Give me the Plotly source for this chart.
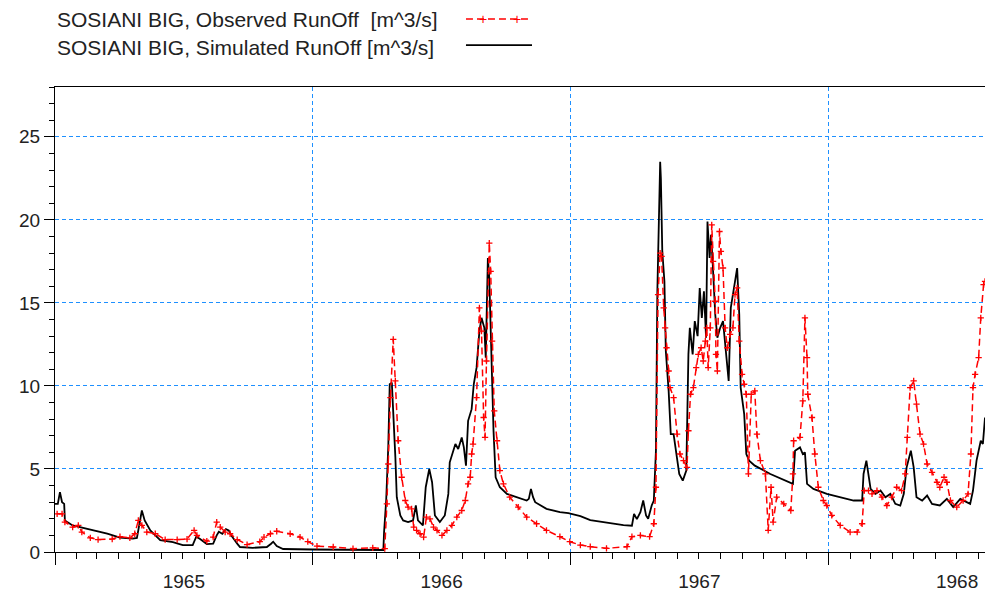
import plotly.graph_objects as go
import pandas as pd

# ---------------- data ----------------
start_date = "1965-01-01"
end_date = "1968-08-10"

obs_name = "SOSIANI BIG, Observed RunOff \u00a0[m^3/s]"
sim_name = "SOSIANI BIG, Simulated RunOff [m^3/s]"

year_ticks = ["1965", "1966", "1967", "1968"]

# days since 1965-01-01
sim_day = [0, 4, 7, 10, 13, 14, 25, 40, 54, 74, 92, 110, 116, 119, 123, 127, 135, 149,
           167, 181, 195, 200, 205, 215, 224, 229, 232, 237, 242, 246, 251, 258, 262,
           280, 300, 306, 309, 314, 323, 365, 465, 466, 469, 472, 474, 477, 479, 482,
           484, 489, 493, 500, 507, 511, 514, 521, 525, 530, 534, 538, 545, 552, 557,
           559, 567, 571, 576, 579, 582, 585, 590, 593, 597, 601, 604, 608, 610, 613,
           615, 618, 621, 624, 630, 640, 654, 668, 671, 674, 677, 680, 696, 715, 727,
           744, 758, 781, 805, 817, 820, 824, 829, 833, 837, 840, 845, 848, 851, 853,
           856, 857, 858, 860, 863, 865, 869, 872, 876, 880, 884, 889, 894, 897, 899,
           903, 906, 910, 913, 916, 919, 922, 924, 927, 929, 931, 935, 938, 942, 946,
           950, 954, 957, 962, 966, 969, 971, 976, 979, 983, 991, 1013, 1045, 1048,
           1055, 1059, 1062, 1065, 1074, 1093, 1112, 1131, 1143, 1145, 1149, 1152,
           1155, 1162, 1169, 1176, 1183, 1190, 1197, 1202, 1206, 1212, 1216, 1220,
           1228, 1235, 1242, 1253, 1263, 1272, 1282, 1296, 1300, 1305, 1311, 1314, 1317]
sim_val = [2.9, 2.9, 3.6, 3.0, 2.9, 1.9, 1.6, 1.45, 1.3, 1.1, 0.86, 0.8, 0.85, 1.6, 2.5,
           1.9, 1.3, 0.72, 0.6, 0.42, 0.42, 0.92, 0.8, 0.48, 0.5, 1.0, 1.22, 1.1, 1.38,
           1.3, 0.92, 0.5, 0.3, 0.25, 0.3, 0.5, 0.62, 0.36, 0.18, 0.15, 0.12, 1.2, 3.1,
           6.4, 10.1, 10.2, 8.7, 5.7, 3.3, 2.2, 1.9, 1.8, 1.9, 2.8, 1.9, 1.6, 3.9, 5.0,
           4.2, 2.2, 1.8, 2.2, 3.5, 5.4, 6.5, 6.2, 6.9, 6.3, 5.2, 7.9, 8.6, 10.1, 11.1,
           13.3, 14.1, 13.5, 11.7, 17.7, 16.5, 11.7, 7.3, 4.5, 3.9, 3.5, 3.3, 3.1, 3.2,
           3.8, 3.3, 3.0, 2.6, 2.4, 2.34, 2.16, 1.92, 1.76, 1.62, 1.58, 2.3, 1.98, 2.4,
           3.1, 2.2, 2.0, 2.8, 3.1, 6.1, 15.7, 22.0, 23.5, 22.5, 18.1, 16.3, 12.1, 9.7,
           7.1, 7.1, 5.9, 4.7, 4.3, 4.9, 11.9, 13.5, 11.9, 13.9, 13.0, 15.9, 14.1, 15.7,
           12.9, 19.9, 17.7, 19.1, 17.7, 14.3, 12.9, 13.5, 13.9, 11.9, 10.3, 14.7, 15.9,
           17.1, 14.3, 9.9, 8.3, 5.9, 5.5, 5.2, 4.7, 4.1, 6.1, 6.3, 5.9, 6.0, 4.1, 3.8,
           3.5, 3.3, 3.1, 3.1, 4.7, 5.5, 4.7, 3.8, 3.5, 3.7, 3.3, 3.5, 2.9, 2.8, 3.5,
           5.1, 6.1, 5.1, 3.3, 3.1, 3.4, 2.9, 2.8, 3.2, 2.7, 3.2, 2.9, 3.7, 5.5, 6.7,
           6.5, 8.1]

obs_day = [3, 10, 14, 25, 33, 38, 50, 61, 81, 92, 106, 113, 118, 123, 130, 142, 156, 173,
           187, 197, 201, 215, 224, 229, 234, 241, 248, 258, 272, 290, 296, 305, 314,
           333, 347, 358, 371, 394, 422, 450, 467, 470, 472, 475, 479, 482, 486, 491,
           496, 500, 505, 508, 512, 517, 522, 526, 531, 536, 541, 548, 555, 562, 569,
           576, 581, 585, 588, 590, 592, 597, 601, 604, 607, 609, 611, 615, 617, 619,
           622, 626, 630, 635, 644, 656, 668, 682, 696, 715, 729, 744, 758, 781, 810,
           817, 829, 842, 848, 851, 854, 857, 859, 862, 864, 866, 869, 871, 876, 881,
           885, 890, 895, 897, 900, 904, 908, 911, 915, 918, 921, 923, 925, 928, 930,
           932, 935, 936, 938, 941, 943, 946, 949, 952, 956, 960, 963, 966, 969, 973,
           976, 979, 982, 986, 991, 994, 999, 1006, 1010, 1014, 1017, 1022, 1032, 1042,
           1045, 1046, 1055, 1059, 1062, 1065, 1066, 1072, 1076, 1081, 1088, 1093, 1100,
           1112, 1126, 1136, 1143, 1146, 1152, 1157, 1164, 1171, 1178, 1185, 1192, 1199,
           1204, 1207, 1211, 1216, 1220, 1225, 1230, 1235, 1242, 1249, 1253, 1259, 1263,
           1268, 1277, 1286, 1293, 1297, 1300, 1303, 1308, 1311, 1315, 1317]
obs_val = [2.3, 2.3, 1.8, 1.5, 1.6, 1.2, 0.85, 0.75, 0.78, 0.92, 0.85, 1.1, 1.9, 1.6, 1.2,
           1.1, 0.75, 0.75, 0.78, 1.3, 1.0, 0.65, 0.9, 1.8, 1.5, 1.2, 1.1, 0.75, 0.45,
           0.62, 0.9, 1.1, 1.25, 1.1, 0.9, 0.62, 0.35, 0.3, 0.2, 0.25, 0.2, 2.9, 5.3, 9.3,
           12.8, 10.3, 6.7, 4.5, 3.1, 2.7, 2.6, 1.5, 1.3, 1.1, 0.9, 2.1, 2.0, 1.5, 1.3,
           1.0, 1.3, 1.6, 2.1, 2.5, 3.1, 4.1, 4.5, 5.9, 6.5, 9.3, 14.7, 13.3, 8.1, 6.9,
           11.5, 18.6, 16.9, 12.7, 8.5, 6.7, 4.9, 4.1, 3.3, 2.7, 2.1, 1.7, 1.3, 0.92,
           0.62, 0.42, 0.32, 0.22, 0.32, 0.92, 1.0, 0.92, 1.7, 3.9, 15.5, 18.0, 17.8,
           14.7, 13.5, 12.3, 10.9, 9.9, 9.3, 7.1, 5.9, 5.5, 5.1, 7.3, 9.5, 9.9, 11.1,
           11.9, 12.3, 11.5, 12.7, 13.5, 11.1, 13.5, 19.7, 17.5, 15.1, 11.9, 10.9, 19.3,
           18.1, 17.1, 13.5, 12.3, 13.1, 13.5, 15.5, 15.9, 12.7, 10.7, 10.1, 9.5, 4.7,
           9.5, 9.7, 7.1, 5.5, 4.7, 1.3, 3.9, 1.8, 3.3, 2.9, 2.5, 4.7, 6.7, 6.9, 9.1,
           14.1, 11.7, 9.5, 8.1, 5.9, 3.9, 3.1, 2.8, 2.2, 1.6, 1.2, 1.2, 1.7, 3.7, 3.7,
           3.5, 3.7, 3.3, 2.8, 3.3, 3.9, 3.7, 4.7, 6.9, 9.9, 10.3, 8.9, 7.1, 6.5, 5.3,
           4.8, 4.2, 3.9, 4.5, 4.2, 3.1, 2.7, 3.1, 3.5, 5.9, 9.9, 10.7, 11.7, 14.1, 16.1,
           16.3]

# ---------------- figure ----------------
t0 = pd.Timestamp(start_date)
sim_x = t0 + pd.to_timedelta(sim_day, unit="D")
obs_x = t0 + pd.to_timedelta(obs_day, unit="D")

RED = "#ff0000"
BLUE = "#1e90ff"
TXT = "#222222"
FONT = "Liberation Sans, Arial, sans-serif"

fig = go.Figure()
fig.add_trace(go.Scatter(
    x=sim_x, y=sim_val, mode="lines", name=sim_name, showlegend=False,
    line=dict(color="black", width=1.8),
))
fig.add_trace(go.Scatter(
    x=obs_x, y=obs_val, mode="lines+markers", name=obs_name, showlegend=False,
    line=dict(color=RED, width=1.5, dash="7px,4px"),
    marker=dict(symbol="cross-thin", size=4.5, line=dict(color=RED, width=1.3)),
))

fig.update_layout(
    width=985, height=601,
    margin=dict(l=55, r=0, t=87, b=49),
    paper_bgcolor="white", plot_bgcolor="white",
    font=dict(family=FONT, size=19, color=TXT),
    xaxis=dict(
        type="date", range=[start_date, end_date],
        tick0="1965-01-01", dtick="M12", tickformat="%Y", ticklabelmode="period",
        ticks="outside", ticklen=12, tickwidth=1, tickcolor="black",
        showline=True, linecolor="black", linewidth=1, mirror=True,
        showgrid=True, gridcolor=BLUE, griddash="4px,3px", gridwidth=1,
        minor=dict(dtick="M1", ticks="outside", ticklen=6, tickcolor="black",
                   showgrid=False),
        tickfont=dict(family=FONT, size=19, color=TXT),
        zeroline=False,
    ),
    yaxis=dict(
        range=[0, 28], dtick=5, tick0=0,
        ticks="outside", ticklen=10, tickwidth=1, tickcolor="black",
        showline=True, linecolor="black", linewidth=1,
        showgrid=True, gridcolor=BLUE, griddash="4px,3px", gridwidth=1,
        minor=dict(dtick=1, ticks="outside", ticklen=5, tickcolor="black",
                   showgrid=False),
        tickfont=dict(family=FONT, size=19, color=TXT),
        zeroline=False,
    ),
)

# legend drawn as in the reference: text first, sample line to the right
leg_font = dict(family=FONT, size=21, color=TXT)
fig.add_annotation(text=obs_name, xref="paper", yref="paper", x=0.0, y=1.146,
                   xanchor="left", yanchor="middle", showarrow=False, font=leg_font)
fig.add_annotation(text=sim_name, xref="paper", yref="paper", x=0.0, y=1.086,
                   xanchor="left", yanchor="middle", showarrow=False, font=leg_font)
fig.add_shape(type="line", xref="paper", yref="paper", x0=0.4419, x1=0.5129,
              y0=1.146, y1=1.146, line=dict(color=RED, width=1.5, dash="7px,4px"))
fig.add_shape(type="line", xref="paper", yref="paper", x0=0.4419, x1=0.5129,
              y0=1.09, y1=1.09, line=dict(color="black", width=1.6))
for px in (0.4602, 0.4968):
    fig.add_annotation(text="+", xref="paper", yref="paper", x=px, y=1.146,
                       xanchor="center", yanchor="middle", showarrow=False,
                       font=dict(family=FONT, size=14, color=RED))

fig.write_html("out.html", config={"displayModeBar": False},
               post_script="document.body.style.margin='0';document.body.style.overflow='hidden';")
